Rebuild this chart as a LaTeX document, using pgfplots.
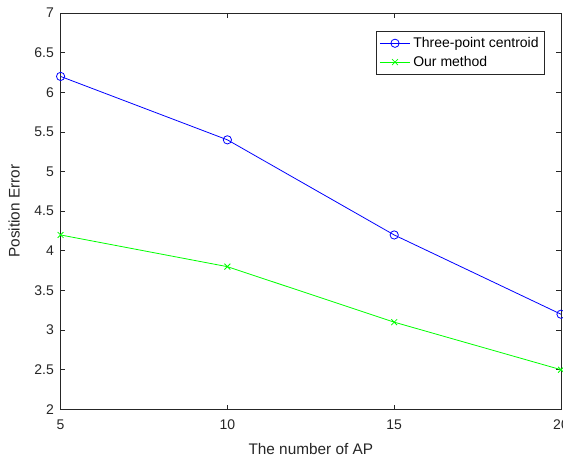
\documentclass[border=0pt]{standalone}
\usepackage{fontspec}
\setmainfont{Liberation Sans}
\usepackage{pgfplots}
\pgfplotsset{compat=1.18}
\definecolor{axgray}{gray}{0.15}

\begin{document}
\begin{tikzpicture}[x=1pt,y=1pt]
\useasboundingbox (-45.4,-36.75) rectangle (376.5,306.75);
\begin{axis}[
  at={(0,0)}, anchor=south west,
  scale only axis,
  width=375pt, height=297pt,
  xmin=5, xmax=20, ymin=2, ymax=7,
  xtick={5,10,15,20},
  ytick={2,2.5,...,7},
  yticklabels={2,2.5,3,3.5,4,4.5,5,5.5,6,6.5,7},
  tick align=inside, tick pos=both,
  major tick length=3.5pt,
  axis line style={axgray, line width=0.5pt},
  every tick/.style={axgray, line width=0.5pt},
  tick label style={font=\fontsize{10.5}{12}\selectfont, text=axgray},
  xticklabel style={yshift=-4pt},
  yticklabel style={xshift=-1.5pt},
  /pgf/number format/assume math mode=true,
  xlabel={The number of AP},
  ylabel={Position Error},
  label style={font=\fontsize{11.5}{13}\selectfont, text=axgray},
  xlabel style={yshift=-4pt},
  ylabel style={yshift=4pt},
  legend style={at={(0.968,0.955)}, anchor=north east,
    font=\fontsize{10.5}{12}\selectfont, draw=axgray, line width=0.5pt,
    inner sep=2.5pt, row sep=1pt},
  legend cell align=left,
  legend image code/.code={
    \draw[mark repeat=2,mark phase=2] plot coordinates {(0cm,0cm) (0.4cm,0cm) (0.8cm,0cm)};},
]
\addplot[blue, line width=0.6pt, mark=o, mark size=3.1pt, mark options={solid}] coordinates {
  (5,6.2)(10,5.4)(15,4.2)(20,3.2)};
\addplot[green, line width=0.6pt, mark=x, mark size=3.1pt] coordinates {
  (5,4.2)(10,3.8)(15,3.1)(20,2.5)};
\legend{Three-point centroid, Our method}
\end{axis}
\end{tikzpicture}
\end{document}
